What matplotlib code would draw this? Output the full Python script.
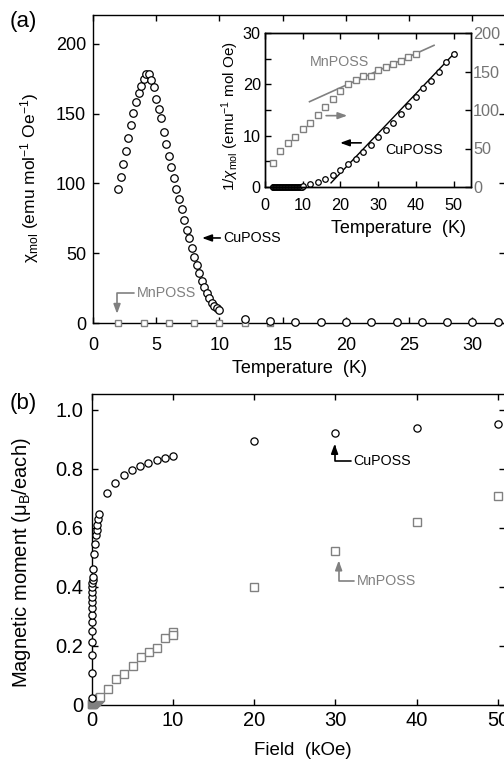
import numpy as np
import matplotlib
matplotlib.use("Agg")
import matplotlib.pyplot as plt
from matplotlib.ticker import MultipleLocator

plt.rcParams['font.family'] = ['Liberation Sans', 'DejaVu Sans']
plt.rcParams['mathtext.fontset'] = 'custom'
plt.rcParams['mathtext.rm'] = 'Liberation Sans'
plt.rcParams['mathtext.it'] = 'Liberation Sans:italic'
plt.rcParams['axes.linewidth'] = 1.0

GRAY = '0.5'

# --- (a) susceptibility vs temperature, CuPOSS ---
cu_T = [2.0, 2.2, 2.4, 2.6, 2.8, 3.0, 3.2, 3.4, 3.6, 3.8, 4.0, 4.2, 4.4, 4.6, 4.8,
        5.0, 5.2, 5.4, 5.6, 5.8, 6.0, 6.2, 6.4, 6.6, 6.8, 7.0, 7.2, 7.4, 7.6, 7.8,
        8.0, 8.2, 8.4, 8.6, 8.8, 9.0, 9.2, 9.4, 9.6, 9.8, 10.0,
        12, 14, 16, 18, 20, 22, 24, 26, 28, 30, 32]
cu_chi = [95.8, 104.8, 114.0, 123.4, 132.5, 141.6, 150.4, 158.3, 164.5, 169.8, 174.8,
          178.4, 178.0, 174.0, 169.3, 160.5, 153.5, 146.5, 137.0, 128.2, 119.6, 112.0,
          103.9, 96.3, 88.9, 81.5, 73.9, 66.8, 60.6, 53.9, 47.2, 41.3, 35.6, 30.3,
          25.5, 21.5, 17.7, 14.6, 12.4, 10.5, 9.6,
          3.0, 1.6, 1.0, 0.8, 0.6, 0.5, 0.5, 0.4, 0.4, 0.4, 0.4]
# MnPOSS susceptibility
mn_T = [2, 4, 6, 8, 10, 12, 14]
mn_chi = [0.3, 0.3, 0.3, 0.3, 0.3, 0.3, 0.3]

# inset: inverse susceptibility
cu_inv_T = [12, 14, 16, 18, 20, 22, 24, 26, 28, 30, 32, 34, 36, 38, 40,
            42, 44, 46, 48, 50]
cu_inv = [0.6, 1.0, 1.6, 2.4, 3.25, 4.4, 5.5, 6.9, 8.2, 9.7, 11.1, 12.5, 14.2,
          15.8, 17.5, 19.2, 20.7, 22.4, 24.4, 25.9]
cu_fit_T = [17.5, 50.5]
cu_fit_inv = [0.8, 26.3]

mn_inv_T = [2, 4, 6, 8, 10, 12, 14, 16, 18, 20, 22, 24, 26, 28, 30, 32, 34, 36, 38, 40]
mn_inv = [31.2, 46.8, 56.7, 65.3, 75.7, 83.5, 93.1, 103.5, 114.7, 125.1, 133.8,
          138.6, 143.8, 143.8, 151.5, 156.2, 160.1, 164.0, 168.8, 173.1]
mn_fit_T = [11.8, 44.8]
mn_fit_inv = [110.8, 184.0]

# --- (b) magnetization vs field ---
cu_H = [0.005, 0.01, 0.02, 0.03, 0.04, 0.05, 0.06, 0.07, 0.08, 0.09, 0.10, 0.11,
        0.12, 0.13, 0.14, 0.2, 0.3, 0.4, 0.55, 0.62, 0.72, 0.85, 0.97,
        1.95, 2.95, 3.95, 4.95, 5.95, 7.0, 8.0, 9.0, 10.0, 20, 30, 40, 50]
cu_M = [0.023, 0.107, 0.169, 0.215, 0.252, 0.282, 0.305, 0.328, 0.350, 0.367,
        0.384, 0.401, 0.412, 0.424, 0.435, 0.461, 0.511, 0.546, 0.576, 0.593,
        0.610, 0.629, 0.647,
        0.718, 0.754, 0.778, 0.797, 0.810, 0.820, 0.829, 0.836, 0.844,
        0.895, 0.922, 0.940, 0.954]
mn_H = [0.05, 0.1, 0.2, 0.3, 0.4, 0.5, 0.6, 0.7, 0.8, 0.9,
        1.05, 2.07, 3.05, 4.04, 5.06, 6.09, 7.07, 8.06, 9.08, 10.0, 10.0,
        20, 30, 40, 50]
mn_M = [0.002, 0.003, 0.005, 0.008, 0.01, 0.013, 0.015, 0.018, 0.02, 0.023,
        0.028, 0.055, 0.087, 0.105, 0.133, 0.162, 0.181, 0.194, 0.226, 0.247, 0.237,
        0.401, 0.522, 0.620, 0.708]

W, H = 504, 759
fig = plt.figure(figsize=(W / 100, H / 100), dpi=100)

arrow_style = '-|>,head_length=0.55,head_width=0.2'


def px_axes(left, top, right, bottom):
    return [left / W, 1 - bottom / H, (right - left) / W, (bottom - top) / H]


# ---------------- panel (a) ----------------
ax1 = fig.add_axes(px_axes(93, 15, 505, 323))
ax1.plot(mn_T, mn_chi, 's', ms=4.6, mfc='white', mec=GRAY, mew=1.0, clip_on=False, zorder=3)
ax1.plot(cu_T, cu_chi, 'o', ms=5.4, mfc='white', mec='black', mew=0.9, clip_on=False, zorder=4)
ax1.set_xlim(0, 32.57)
ax1.set_ylim(0, 220.6)
ax1.xaxis.set_major_locator(MultipleLocator(5))
ax1.yaxis.set_major_locator(MultipleLocator(50))
ax1.tick_params(direction='in', top=True, right=True, length=4, width=1,
                labelsize=13)
ax1.tick_params(axis='x', pad=10)
ax1.tick_params(axis='y', pad=5)
ax1.set_xlabel('Temperature  (K)', fontsize=13)
ax1.xaxis.set_label_coords(0.5, -0.12)
ax1.set_ylabel(r'χ$_{\mathregular{mol}}$ (emu mol$^{\mathregular{-1}}$ Oe$^{\mathregular{-1}}$)',
               fontsize=12.5)
ax1.yaxis.set_label_coords(-0.126, 0.47)

ax1.annotate('CuPOSS', xy=(8.62, 60.9), xytext=(10.28, 60.9), ha='left', va='center',
             fontsize=10.3,
             arrowprops=dict(arrowstyle=arrow_style, color='black', lw=1.2,
                             shrinkA=0, shrinkB=0))
ax1.annotate('MnPOSS', xy=(1.9, 6.5), xytext=(3.48, 21.5), ha='left', va='center',
             fontsize=10.3, color=GRAY,
             arrowprops=dict(arrowstyle=arrow_style, color=GRAY, lw=1.2,
                             shrinkA=0, shrinkB=0,
                             connectionstyle='angle,angleA=0,angleB=90,rad=0'))

# inset
axin = fig.add_axes(px_axes(265, 33, 471, 187))
axr = axin.twinx()
axr.plot(mn_fit_T, mn_fit_inv, '-', color=GRAY, lw=1.2)
axr.plot(mn_inv_T, mn_inv, 's', ms=4.4, mfc='white', mec=GRAY, mew=1.0, clip_on=False)
axin.plot(cu_fit_T, cu_fit_inv, '-', color='black', lw=1.0)
axin.plot(cu_T[:41], [1.0 / c for c in cu_chi[:41]], 'o', ms=4.0, mfc='white',
          mec='black', mew=0.9, clip_on=False)
axin.plot(cu_inv_T, cu_inv, 'o', ms=4.0, mfc='white', mec='black', mew=0.9,
          clip_on=False)
axin.set_xlim(0, 54.6)
axin.set_ylim(0, 30)
axr.set_ylim(0, 200)
axin.xaxis.set_major_locator(MultipleLocator(10))
axin.yaxis.set_major_locator(MultipleLocator(10))
axin.yaxis.set_minor_locator(MultipleLocator(5))
axr.yaxis.set_major_locator(MultipleLocator(50))
axin.tick_params(direction='in', top=True, length=4, width=1, labelsize=11.7)
axin.tick_params(axis='y', which='minor', direction='in', length=4, width=1)
axin.tick_params(axis='x', pad=8)
axin.tick_params(axis='y', pad=3)
axr.tick_params(direction='in', length=4, width=1, labelsize=11.7, pad=1.5,
                labelcolor='0.45')
axin.set_xlabel('Temperature  (K)', fontsize=13)
axin.xaxis.set_label_coords(0.646, -0.215)
axin.set_ylabel(r'1/$\chi_{\mathregular{mol}}$ (emu$^{\mathregular{-1}}$ mol Oe)', fontsize=11)
axin.yaxis.set_label_coords(-0.118, 0.46)
axin.text(11.9, 24.4, 'MnPOSS', color=GRAY, fontsize=10.3, ha='left', va='center')
axin.text(32, 7.2, 'CuPOSS', color='black', fontsize=10.3, ha='left', va='center')
axin.annotate('', xy=(21.8, 13.9), xytext=(16.2, 13.9),
              arrowprops=dict(arrowstyle=arrow_style, color=GRAY, lw=1.2,
                              shrinkA=0, shrinkB=0))
axin.annotate('', xy=(19.9, 8.6), xytext=(25.5, 8.6),
              arrowprops=dict(arrowstyle=arrow_style, color='black', lw=1.2,
                              shrinkA=0, shrinkB=0))

# ---------------- panel (b) ----------------
ax2 = fig.add_axes(px_axes(91.5, 394, 505, 705))
ax2.plot(mn_H, mn_M, 's', ms=5.2, mfc='white', mec=GRAY, mew=1.0, clip_on=False, zorder=3)
ax2.plot(cu_H, cu_M, 'o', ms=5.2, mfc='white', mec='black', mew=0.9, clip_on=False, zorder=4)
ax2.set_xlim(0, 50.86)
ax2.set_ylim(0, 1.054)
ax2.xaxis.set_major_locator(MultipleLocator(10))
ax2.set_yticks([0, 0.2, 0.4, 0.6, 0.8, 1.0])
ax2.set_yticklabels(['0', '0.2', '0.4', '0.6', '0.8', '1.0'])
ax2.tick_params(direction='in', top=True, right=True, length=4, width=1,
                labelsize=14.5)
ax2.tick_params(axis='x', pad=4)
ax2.tick_params(axis='y', pad=6)
ax2.set_xlabel('Field  (kOe)', fontsize=13.5)
ax2.xaxis.set_label_coords(0.511, -0.12)
ax2.set_ylabel(r'Magnetic moment ($\mathregular{\mu_B}$/each)', fontsize=14.5)
ax2.yaxis.set_label_coords(-0.1415, 0.457)

ax2.annotate('CuPOSS', xy=(29.9, 0.885), xytext=(32.2, 0.826), ha='left', va='center',
             fontsize=10.3,
             arrowprops=dict(arrowstyle=arrow_style, color='black', lw=1.2,
                             shrinkA=0, shrinkB=0,
                             connectionstyle='angle,angleA=0,angleB=90,rad=0'))
ax2.annotate('MnPOSS', xy=(30.4, 0.49), xytext=(32.6, 0.42), ha='left', va='center',
             fontsize=10.3, color=GRAY,
             arrowprops=dict(arrowstyle=arrow_style, color=GRAY, lw=1.2,
                             shrinkA=0, shrinkB=0,
                             connectionstyle='angle,angleA=0,angleB=90,rad=0'))

fig.text(23 / W, 1 - 22 / H, '(a)', fontsize=16, ha='center', va='center')
fig.text(23 / W, 1 - 403 / H, '(b)', fontsize=16, ha='center', va='center')

fig.savefig('out.png', dpi=100)
